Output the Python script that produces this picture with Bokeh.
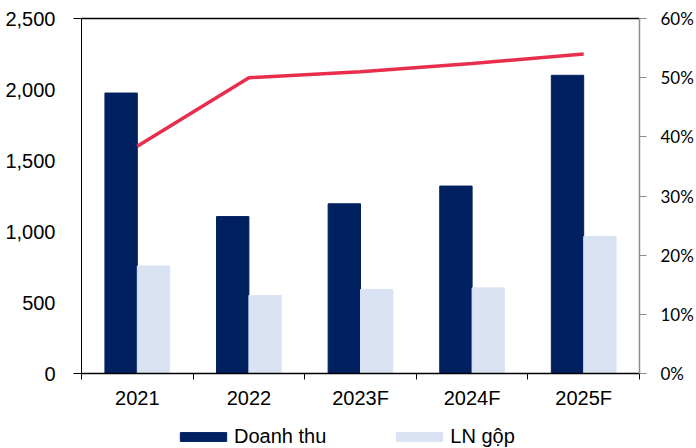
from bokeh.plotting import figure
from bokeh.layouts import column
from bokeh.models import (ColumnDataSource, Range1d, LinearAxis, FixedTicker,
                          NumeralTickFormatter, Legend, LegendItem)
from bokeh.embed import file_html
from bokeh.resources import INLINE

# Revenue, gross profit (left axis) and gross margin (right axis)
categories = ["2021", "2022", "2023F", "2024F", "2025F"]
doanh_thu = [1975, 1105, 1195, 1320, 2100]
ln_gop = [757, 550, 592, 603, 965]
margin = [0.384, 0.500, 0.510, 0.524, 0.540]

left_ticks = [0, 500, 1000, 1500, 2000, 2500]
right_ticks = [0, 0.1, 0.2, 0.3, 0.4, 0.5, 0.6]
series_names = ["Doanh thu", "LN gộp"]

NAVY = "#002060"
LIGHT = "#DAE3F3"
RED = "#E92E4D"
FONT = "Liberation Sans"

idx = list(range(len(categories)))
bar_w = 0.29
src = ColumnDataSource(dict(
    x=idx,
    x_dark=[i - bar_w / 2 for i in idx],
    x_light=[i + bar_w / 2 for i in idx],
    doanh_thu=doanh_thu,
    ln_gop=ln_gop,
    margin=margin,
))

p = figure(width=696, height=420, output_backend="svg", toolbar_location=None,
           x_range=Range1d(-0.5, len(categories) - 0.5), y_range=Range1d(0, 2500),
           x_axis_location=None, y_axis_location=None,
           min_border_left=81, min_border_right=56, min_border_top=18,
           min_border_bottom=47)
p.outline_line_color = None
p.xgrid.visible = False
p.ygrid.visible = False
p.extra_y_ranges = {"pct": Range1d(0, 0.6)}

p.vbar(x="x_dark", top="doanh_thu", width=bar_w, source=src,
       fill_color=NAVY, line_color=NAVY)
p.vbar(x="x_light", top="ln_gop", width=bar_w, source=src,
       fill_color=LIGHT, line_color=LIGHT)
p.line(x="x", y="margin", source=src, y_range_name="pct",
       line_color=RED, line_width=3.5)

# Left value axis
yl = LinearAxis(ticker=FixedTicker(ticks=left_ticks, minor_ticks=[0, 2500]),
                formatter=NumeralTickFormatter(format="0,0"))
yl.axis_line_color = "black"
yl.major_tick_line_color = None
yl.major_tick_out = 0
yl.major_tick_in = 0
yl.minor_tick_line_color = "black"
yl.minor_tick_out = 8
yl.minor_tick_in = 0
yl.major_label_standoff = 18
yl.major_label_text_font = FONT
yl.major_label_text_font_size = "20px"
yl.major_label_text_color = "black"
p.add_layout(yl, "left")

# Right percentage axis
yr = LinearAxis(y_range_name="pct", ticker=FixedTicker(ticks=right_ticks),
                formatter=NumeralTickFormatter(format="0%"))
yr.axis_line_color = "#8C8C8C"
yr.axis_line_width = 1.5
yr.major_tick_line_color = "#8C8C8C"
yr.major_tick_out = 7
yr.major_tick_in = 0
yr.minor_tick_line_color = None
yr.major_label_standoff = 14
yr.major_label_text_font = "Lato"
yr.major_label_text_font_size = "17px"
yr.major_label_text_color = "black"
p.add_layout(yr, "right")

# Category axis with ticks between the groups
xb = LinearAxis(ticker=FixedTicker(ticks=idx,
                                   minor_ticks=[i - 0.5 for i in range(len(categories) + 1)]),
                major_label_overrides={i: c for i, c in zip(idx, categories)})
xb.axis_line_color = "black"
xb.axis_line_width = 1.5
xb.major_tick_line_color = None
xb.major_tick_out = 0
xb.major_tick_in = 0
xb.minor_tick_line_color = "black"
xb.minor_tick_out = 6
xb.minor_tick_in = 0
xb.major_label_standoff = 7
xb.major_label_text_font = FONT
xb.major_label_text_font_size = "20px"
xb.major_label_text_color = "black"
p.add_layout(xb, "below")

# Plain line along the top of the plot area
xt = LinearAxis(ticker=FixedTicker(ticks=[]))
xt.axis_line_color = "black"
xt.axis_line_width = 1.5
xt.major_tick_line_color = None
xt.minor_tick_line_color = None
xt.major_label_text_font_size = "0px"
p.add_layout(xt, "above")

# Legend strip underneath the chart; its swatch renderers sit outside the view
lg = figure(width=696, height=28, output_backend="svg", toolbar_location=None,
            x_range=Range1d(0, 1), y_range=Range1d(0, 1),
            x_axis_location=None, y_axis_location=None,
            min_border=0, min_border_left=0, min_border_right=0,
            min_border_top=0, min_border_bottom=0)
lg.outline_line_color = None
lg.xgrid.visible = False
lg.ygrid.visible = False
sw_dark = lg.vbar(x=[-5], top=[-5], width=0.1, fill_color=NAVY, line_color=NAVY)
sw_light = lg.vbar(x=[-5], top=[-5], width=0.1, fill_color=LIGHT, line_color=LIGHT)

legend = Legend(items=[LegendItem(label=series_names[0], renderers=[sw_dark]),
                       LegendItem(label=series_names[1], renderers=[sw_light])],
                orientation="horizontal", location=(93, 0),
                glyph_width=58, glyph_height=11, label_height=11,
                label_standoff=2, spacing=64,
                padding=0, margin=0, border_line_color=None,
                background_fill_alpha=0,
                label_text_font=FONT, label_text_font_size="20px",
                label_text_color="black")
lg.add_layout(legend, "center")

open("out.html", "w").write(file_html(column(p, lg, spacing=0), INLINE))
